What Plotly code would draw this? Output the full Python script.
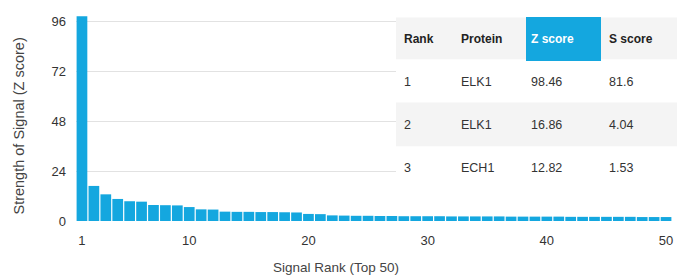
import plotly.graph_objects as go

# ---- data ----
ranks = list(range(1, 51))
z_scores = [98.46, 16.86, 12.82, 10.6, 9.5, 9.3, 7.7, 7.6, 7.5, 6.7,
            5.6, 5.5, 4.5, 4.4, 4.4, 4.3, 4.3, 4.2, 4.1, 3.4,
            3.3, 2.7, 2.6, 2.5, 2.5, 2.4, 2.4, 2.3, 2.3, 2.3,
            2.3, 2.2, 2.2, 2.2, 2.2, 2.2, 2.1, 2.1, 2.1, 2.1,
            2.1, 2.0, 2.0, 2.0, 2.0, 2.0, 2.0, 1.9, 1.9, 1.9]
y_ticks = [0, 24, 48, 72, 96]
x_ticks = [1, 10, 20, 30, 40, 50]

table_header = ["Rank", "Protein", "Z score", "S score"]
table_rank = ["1", "2", "3"]
table_protein = ["ELK1", "ELK1", "ECH1"]
table_z = ["98.46", "16.86", "12.82"]
table_s = ["81.6", "4.04", "1.53"]

# ---- layout geometry (pixels) ----
W, H = 682, 277
L, R = 76, 672
Y0, YTOP = 221.5, 13.4

def px(x):
    return (x - L) / (R - L)

def py(y):
    return (Y0 - y) / (Y0 - YTOP)

FONT = "Liberation Sans, Arial, Helvetica, sans-serif"
BLUE = "#14a7df"
TXT = "#333333"

fig = go.Figure()
fig.add_trace(go.Bar(x=ranks, y=z_scores, marker=dict(color=BLUE, line=dict(width=0)),
                     width=0.9, hoverinfo="x+y"))

shapes = []
annotations = []

# table backgrounds
col_x = [402, 459, 529, 607]
row_edges = [18, 60, 103, 147, 190]
row_fill = ["#f4f4f4", "#ffffff", "#f4f4f4", "#ffffff"]
for i in range(4):
    shapes.append(dict(type="rect", xref="paper", yref="paper", layer="above",
                       x0=px(396), x1=px(677), y0=py(row_edges[i + 1]), y1=py(row_edges[i]),
                       fillcolor=row_fill[i], line=dict(width=0)))
# highlighted Z score header cell
shapes.append(dict(type="rect", xref="paper", yref="paper", layer="above",
                   x0=px(526), x1=px(601), y0=py(61.5), y1=py(17.3),
                   fillcolor=BLUE, line=dict(width=0)))

row_y = [39, 82, 125, 168]
for j, h in enumerate(table_header):
    annotations.append(dict(xref="paper", yref="paper", x=px(col_x[j]), y=py(row_y[0]),
                            xanchor="left", yanchor="middle", showarrow=False,
                            text="<b>%s</b>" % h,
                            font=dict(family=FONT, size=12, color="#ffffff" if j == 2 else "#222222")))
for i in range(3):
    vals = [table_rank[i], table_protein[i], table_z[i], table_s[i]]
    for j, v in enumerate(vals):
        annotations.append(dict(xref="paper", yref="paper", x=px(col_x[j]), y=py(row_y[i + 1]),
                                xanchor="left", yanchor="middle", showarrow=False, text=v,
                                font=dict(family=FONT, size=12.5, color=TXT)))

# axis titles
annotations.append(dict(xref="paper", yref="paper", x=px(336), y=py(268),
                        xanchor="center", yanchor="middle", showarrow=False,
                        text="Signal Rank (Top 50)", font=dict(family=FONT, size=13.5, color="#444444")))
annotations.append(dict(xref="paper", yref="paper", x=px(19), y=py(127),
                        xanchor="center", yanchor="middle", showarrow=False, textangle=-90,
                        text="Strength of Signal (Z score)", font=dict(family=FONT, size=14.5, color="#444444")))

fig.update_layout(
    width=W, height=H,
    margin=dict(l=L, r=W - R, t=YTOP, b=H - Y0, pad=0),
    paper_bgcolor="white", plot_bgcolor="white",
    showlegend=False, bargap=0.08,
    font=dict(family=FONT, size=13, color=TXT),
    shapes=shapes, annotations=annotations,
    xaxis=dict(range=[0.5, 50.5], tickvals=x_ticks, showgrid=False, zeroline=False,
               showline=False, ticks="", ticklabelstandoff=10,
               tickfont=dict(family=FONT, size=13, color=TXT)),
    yaxis=dict(range=[0, 100], tickvals=y_ticks, showgrid=True, gridcolor="#e2e2e2",
               gridwidth=1, zeroline=False, showline=False, ticks="", ticklabelstandoff=9,
               tickfont=dict(family=FONT, size=13, color=TXT)),
)

fig.write_html("out.html", config={"displayModeBar": False},
               post_script="document.body.style.margin='0';")
